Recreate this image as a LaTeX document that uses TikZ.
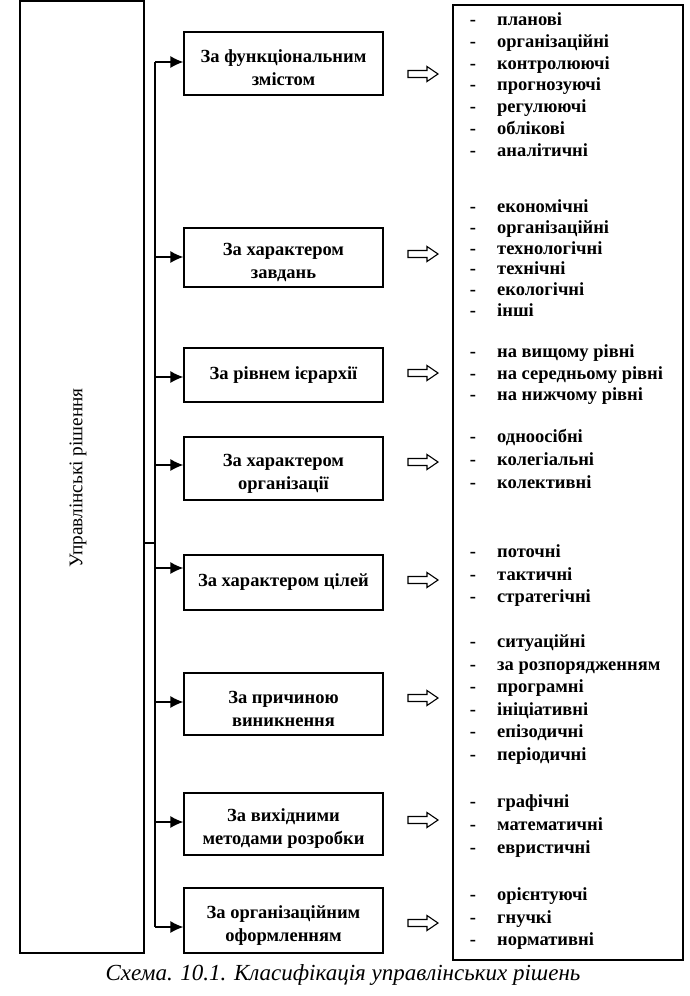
\documentclass[tikz,border=0pt]{standalone}
\usepackage{fontspec}
\setmainfont{Liberation Serif}
\usetikzlibrary{arrows.meta}

\newcommand\grp[4]{%
  \foreach \t [count=\k] in {#4} {
    \node[dashmark] (#1d\k) at (473,{#2+#3*(\k-1)}) {-};
    \node[itemtext] (#1t\k) at (497,{#2+#3*(\k-1)}) {\t};
  }}
\newcommand\uppad{\rule{0pt}{22pt}}

\begin{document}
\begin{tikzpicture}[x=1pt,y=-1pt,
  every node/.style={font=\fontsize{18.5}{23}\selectfont\bfseries},
  catbox/.style={draw, line width=1.3pt, minimum width=199pt, align=center, inner sep=0pt},
  bigbox/.style={draw, line width=1.4pt, inner sep=0pt},
  itemtext/.style={anchor=west, inner sep=0pt, text height=9pt, text depth=4pt},
  dashmark/.style={anchor=center, inner sep=0pt, text height=9pt, text depth=4pt},
  conn/.style={line width=1.3pt, -{Latex[length=13pt,width=12pt]}},
  bus/.style={line width=1.3pt},
  hollow/.pic={\draw[line width=1.1pt] (-15,-3.5) -- (4,-3.5) -- (4,-7.5) -- (15,0) -- (4,7.5) -- (4,3.5) -- (-15,3.5) -- cycle;}
]
\useasboundingbox (0,0) rectangle (690,996);

% big boxes
\node[bigbox, minimum width=124pt, minimum height=952pt] (L) at (82,477) {};
\node[rotate=90, font=\fontsize{19.3}{22}\selectfont] (Ltext) at (78,478) {Управлінські рішення};
\node[bigbox, minimum width=230pt, minimum height=955pt] (R) at (568,482.5) {};

% category boxes
\node[catbox, minimum height=63pt] (c1) at (283.5,63.5) {\uppad За функціональним\\змістом};
\node[catbox, minimum height=59pt] (c2) at (283.5,257.5) {\uppad За характером\\завдань};
\node[catbox, minimum height=54pt] (c3) at (283.5,375) {За рівнем ієрархії};
\node[catbox, minimum height=63pt] (c4) at (283.5,468.5) {\uppad За характером\\організації};
\node[catbox, minimum height=55pt] (c5) at (283.5,582.5) {За характером цілей};
\node[catbox, minimum height=62pt] (c6) at (283.5,704) {\uppad За причиною\\виникнення};
\node[catbox, minimum height=62pt] (c7) at (283.5,824) {\uppad За вихідними\\методами розробки};
\node[catbox, minimum height=65pt] (c8) at (283.5,920.5) {\uppad За організаційним\\оформленням};

% bus
\coordinate (b1) at (155,62);
\coordinate (b2) at (155,257);
\coordinate (b3) at (155,377);
\coordinate (b4) at (155,465);
\coordinate (b5) at (155,568);
\coordinate (b6) at (155,702);
\coordinate (b7) at (155,822);
\coordinate (b8) at (155,927);
\coordinate (j) at (155,543);
\draw[bus] (b1) -- (b8);
\draw[bus] (j -| L.east) -- (j);
\foreach \i in {1,...,8} {
  \draw[conn] (b\i) -- (b\i -| c\i.west);
}

% hollow arrows
\foreach \i/\y in {1/74,2/254,3/373,4/462,5/580,6/698,7/820,8/923} {
  \pic (h\i) at (423,\y) {hollow};
}

% lists
\grp{a}{23}{21.8}{планові,організаційні,контролюючі,прогнозуючі,регулюючі,облікові,аналітичні}
\grp{b}{210}{20.8}{економічні,організаційні,технологічні,технічні,екологічні,інші}
\grp{c}{355}{21.5}{на вищому рівні,на середньому рівні,на нижчому рівні}
\grp{d}{440}{23}{одноосібні,колегіальні,колективні}
\grp{e}{555}{22.5}{поточні,тактичні,стратегічні}
\grp{f}{645}{22.6}{ситуаційні,за розпорядженням,програмні,ініціативні,епізодичні,періодичні}
\grp{g}{805}{23}{графічні,математичні,евристичні}
\grp{h}{898}{22.5}{орієнтуючі,гнучкі,нормативні}

% caption
\node[font=\fontsize{23}{26}\selectfont\itshape] (cap) at (343,975) {Схема. 10.1. Класифікація управлінських рішень};
\end{tikzpicture}
\end{document}
